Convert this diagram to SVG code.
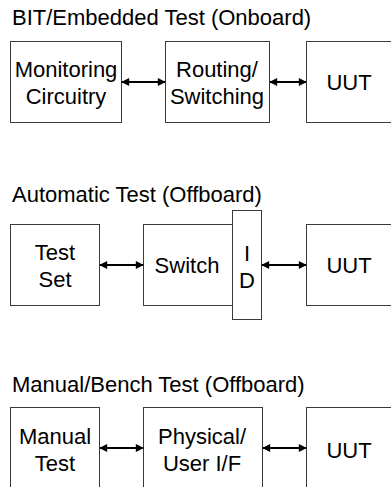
<svg xmlns="http://www.w3.org/2000/svg" width="391" height="487" viewBox="0 0 391 487">
<style>
text{font-family:"Liberation Sans",Arial,sans-serif;font-size:22px;fill:#000}
.t{text-anchor:start}
.c{text-anchor:middle}
rect{fill:#fff;stroke:#3a3a3a;stroke-width:1}
.a{stroke:#000;stroke-width:2;fill:none;marker-start:url(#h);marker-end:url(#h)}
</style>
<defs>
<marker id="h" viewBox="0 0 10 10" refX="9" refY="5" markerWidth="4.5" markerHeight="4" orient="auto-start-reverse" markerUnits="strokeWidth">
<path d="M0,0 L10,5 L0,10 Z" fill="#000"/>
</marker>
</defs>
<text class="t" x="12" y="25">BIT/Embedded Test (Onboard)</text>
<text class="t" x="12" y="202">Automatic Test (Offboard)</text>
<text class="t" x="12" y="392">Manual/Bench Test (Offboard)</text>
<g id="monitoring">
<rect x="10.5" y="41.5" width="111" height="81"/>
<text class="c" x="66" y="77">Monitoring</text>
<text class="c" x="66" y="104">Circuitry</text>
</g>
<g id="routing">
<rect x="165.5" y="41.5" width="104" height="81"/>
<text class="c" x="217" y="77">Routing/</text>
<text class="c" x="217" y="104">Switching</text>
</g>
<g id="uut1">
<rect x="306.5" y="41.5" width="90" height="81"/>
<text class="c" x="349" y="90">UUT</text>
</g>
<g id="testset">
<rect x="10.5" y="224.5" width="89" height="81"/>
<text class="c" x="55" y="260">Test</text>
<text class="c" x="55" y="287">Set</text>
</g>
<g id="switch">
<rect x="143.5" y="224.5" width="89" height="81"/>
<text class="c" x="187" y="273">Switch</text>
</g>
<g id="id">
<rect x="232.5" y="210.5" width="29" height="109"/>
<text class="c" x="247" y="261">I</text>
<text class="c" x="247" y="288">D</text>
</g>
<g id="uut2">
<rect x="306.5" y="224.5" width="90" height="81"/>
<text class="c" x="349" y="273">UUT</text>
</g>
<g id="manual">
<rect x="10.5" y="407.5" width="89" height="90"/>
<text class="c" x="55" y="444">Manual</text>
<text class="c" x="55" y="471">Test</text>
</g>
<g id="physical">
<rect x="143.5" y="407.5" width="119" height="90"/>
<text class="c" x="202" y="444">Physical/</text>
<text class="c" x="202" y="471">User I/F</text>
</g>
<g id="uut3">
<rect x="306.5" y="407.5" width="90" height="90"/>
<text class="c" x="349" y="458">UUT</text>
</g>
<g id="connectors">
<line class="a" x1="122" y1="82" x2="165" y2="82"/>
<line class="a" x1="270" y1="82" x2="306" y2="82"/>
<line class="a" x1="100" y1="265" x2="143" y2="265"/>
<line class="a" x1="262" y1="265" x2="306" y2="265"/>
<line class="a" x1="100" y1="448" x2="143" y2="448"/>
<line class="a" x1="263" y1="448" x2="306" y2="448"/>
</g>
</svg>
